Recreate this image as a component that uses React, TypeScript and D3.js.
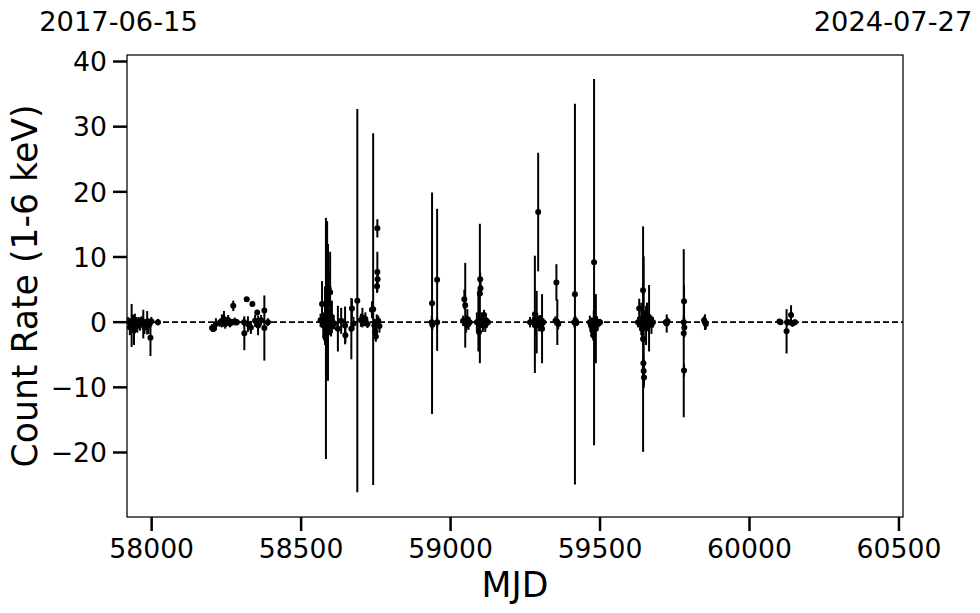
import React from "react";
import * as d3 from "d3";

// Observation epochs (MJD), count rates (1-6 keV) and 1-sigma errors
const mjd: number[] = [
  57921, 57927, 57933, 57937, 57941, 57944, 57948, 57952, 57956, 57961, 57966, 57972, 57976, 57980, 57985, 57989, 57996, 57999, 58021,
  58202, 58208, 58215, 58228, 58235, 58242, 58246, 58250, 58256, 58262, 58268, 58273, 58278, 58285, 58309, 58310, 58318, 58322, 58332, 58337, 58346, 58353, 58356, 58366, 58377, 58377, 58389,
  58565, 58570, 58574, 58578, 58580, 58582, 58583, 58585, 58587, 58588, 58590, 58592, 58594, 58597, 58600, 58603, 58606, 58610, 58623, 58634, 58647, 58648, 58668, 58670, 58675, 58688, 58700, 58705, 58710, 58715, 58722, 58737, 58741, 58745, 58748, 58750, 58753, 58755, 58755, 58756, 58754, 58758, 58762,
  58937, 58938, 58939, 58955, 58955,
  59042, 59046, 59049, 59052, 59056, 59060, 59064, 59088, 59093, 59095, 59098, 59099, 59100, 59103, 59108, 59112, 59116, 59120, 59125,
  59266, 59276, 59282, 59285, 59288, 59290, 59293, 59296, 59300, 59303, 59306, 59310, 59351, 59354, 59357, 59360,
  59414, 59416, 59418, 59421,
  59466, 59470, 59474, 59477, 59479, 59480, 59483, 59486, 59490, 59495, 59500,
  59627, 59631, 59634, 59638, 59641, 59644, 59644, 59645, 59646, 59646, 59647, 59650, 59654, 59657, 59660, 59664, 59668, 59672, 59677,
  59720, 59723, 59726, 59780, 59780, 59781, 59781, 59782, 59848, 59851, 59854,
  60100, 60104, 60124, 60126, 60132, 60139, 60144, 60152,
];
const rate: number[] = [
  0.2, -0.8, -0.5, 0.3, -1.2, -0.2, 0.0, -0.6, 0.1, -0.4, 0.3, -0.3, -0.8, 0.0, -0.1, -0.6, -2.4, 0.1, 0.0,
  -0.9, -1.0, -0.3, -0.1, 0.2, 0.5, -0.2, 0.0, 0.3, -0.2, 0.0, 2.5, 0.1, 0.0, 0.0, -1.7, 3.5, -0.3, -0.8, 2.8, 0.2, 1.5, -0.5, 0.3, -0.9, 1.8, 0.0,
  0.3, 2.8, -0.5, 0.0, 1.0, -0.8, -2.5, 0.5, 3.3, -1.5, 1.5, 5.2, 0.0, 4.6, -0.4, 0.8, 0.0, -0.3, -1.0, 0.2, -0.5, -2.0, -1.0, 2.1, -0.2, 3.3, 0.3, 0.7, 0.2, 0.5, -0.3, 1.9, 2.0, -0.5, -1.5, -2.2, 0.0, 14.4, 7.7, 6.6, 5.5, 0.2, -0.6,
  0.0, 2.9, -0.4, 6.5, 0.0,
  0.2, 3.5, 2.6, -0.3, 0.5, -0.2, 0.0, 0.0, 0.2, -1.5, 4.4, 6.6, 5.2, 0.3, -0.5, 1.1, -0.5, 0.2, 0.0,
  0.0, 0.0, 1.2, -0.5, 0.0, 0.4, 16.9, -0.2, 0.3, -0.4, -1.0, 0.0, 0.2, 6.1, 0.0, -0.3,
  0.0, 4.3, 0.2, -0.1,
  0.0, -0.5, -1.2, -2.0, 0.3, 9.2, -0.8, -1.0, 0.1, -0.2, 0.0,
  0.0, 2.1, -0.3, 0.5, -1.0, -2.6, 4.9, -6.3, -7.5, 0.0, -8.5, 0.3, -0.5, 1.0, -0.2, 0.6, 0.2, -0.4, 0.0,
  0.0, -0.2, 0.1, -1.7, 0.0, 3.2, -7.4, -0.8, 0.3, 0.0, -0.3,
  0.1, 0.0, -1.4, 0.0, 0.0, 1.1, -0.2, 0.0,
];
const rateErr: number[] = [
  0.6, 1.2, 3.3, 0.9, 2.3, 1.5, 0.8, 1.0, 0.7, 0.9, 0.6, 2.2, 1.0, 0.5, 1.8, 1.2, 2.8, 0.7, 0.5,
  0.6, 0.5, 0.9, 0.6, 1.0, 1.2, 0.8, 0.7, 0.8, 0.6, 0.5, 0.8, 0.6, 0.5, 0.6, 2.6, 0.3, 1.2, 1.0, 0.3, 0.9, 0.4, 1.5, 0.8, 5.0, 0.4, 0.6,
  1.0, 3.5, 2.0, 1.2, 4.5, 2.5, 18.5, 1.5, 12.2, 3.0, 10.5, 2.8, 2.0, 6.2, 1.8, 2.5, 1.0, 0.8, 3.5, 2.0, 2.9, 1.2, 4.7, 1.5, 1.0, 29.4, 1.0, 1.5, 0.8, 1.0, 0.6, 1.3, 27.0, 1.0, 1.0, 0.8, 1.2, 1.4, 3.1, 1.5, 1.0, 0.8, 1.0,
  1.0, 17.0, 0.8, 10.9, 0.8,
  0.8, 1.5, 6.5, 1.3, 1.5, 1.0, 0.7, 1.5, 4.7, 2.5, 10.7, 1.0, 1.0, 1.2, 1.0, 0.8, 1.0, 0.6, 0.5,
  0.8, 0.8, 9.0, 1.5, 4.8, 1.0, 9.1, 1.2, 0.8, 1.0, 5.3, 0.6, 0.7, 2.8, 3.5, 0.8,
  0.8, 29.2, 0.7, 0.5,
  1.0, 1.2, 1.0, 0.8, 1.5, 28.1, 2.0, 5.3, 0.8, 0.6, 0.5,
  0.8, 1.5, 1.0, 2.5, 2.0, 17.3, 1.0, 1.0, 1.0, 10.1, 1.2, 1.5, 3.0, 2.0, 1.2, 5.1, 1.0, 1.4, 0.8,
  0.5, 1.4, 0.6, 12.9, 1.0, 2.5, 1.0, 1.5, 0.6, 1.2, 0.8,
  0.3, 0.4, 3.4, 0.5, 0.3, 1.5, 0.5, 0.4,
];

const xTicks: number[] = [58000, 58500, 59000, 59500, 60000, 60500];
const yTicks: number[] = [-20, -10, 0, 10, 20, 30, 40];
const startDate = "2017-06-15";
const endDate = "2024-07-27";
const xDomain: [number, number] = [57917.5, 60513.5];
const yDomain: [number, number] = [-29.9, 41.0];

const W = 980;
const H = 613;
const M = { left: 127, right: 903, top: 55, bottom: 517 };
const FONT = "'DejaVu Sans', sans-serif";

const fmt = (v: number) => (v < 0 ? "\u2212" + Math.abs(v) : String(v));

export default function App() {
  const x = d3.scaleLinear().domain(xDomain).range([M.left, M.right]);
  const y = d3.scaleLinear().domain(yDomain).range([M.bottom, M.top]);
  const pts = mjd.map((m, i) => ({ m, r: rate[i], e: rateErr[i] }));

  return (
    <div style={{ position: "fixed", left: 0, top: 0 }}>
      <svg width={W} height={H} style={{ display: "block", background: "#fff" }} fontFamily={FONT}>
        <defs>
          <clipPath id="plotclip">
            <rect x={M.left} y={M.top} width={M.right - M.left} height={M.bottom - M.top} />
          </clipPath>
        </defs>
        <g clipPath="url(#plotclip)">
          <line x1={M.left} x2={M.right} y1={y(0)} y2={y(0)} stroke="#000" strokeWidth={1.6} strokeDasharray="6,3" />
          {pts.map((p, i) => (
            <line key={"e" + i} x1={x(p.m)} x2={x(p.m)} y1={y(p.r - p.e)} y2={y(p.r + p.e)} stroke="#000" strokeWidth={2} />
          ))}
          {pts.map((p, i) => (
            <circle key={"c" + i} cx={x(p.m)} cy={y(p.r)} r={3} fill="#000" />
          ))}
        </g>
        <rect x={M.left} y={M.top} width={M.right - M.left} height={M.bottom - M.top} fill="none" stroke="#000" strokeWidth={1.25} />
        {xTicks.map((t) => (
          <g key={"xt" + t}>
            <line x1={x(t)} x2={x(t)} y1={M.bottom} y2={M.bottom + 14} stroke="#000" strokeWidth={2.5} />
            <text x={x(t)} y={557.7} textAnchor="middle" fontSize={26.67} fill="#000">{t}</text>
          </g>
        ))}
        {yTicks.map((t) => (
          <g key={"yt" + t}>
            <line x1={M.left - 14} x2={M.left} y1={y(t)} y2={y(t)} stroke="#000" strokeWidth={2.5} />
            <text x={107} y={y(t) + 9.7} textAnchor="end" fontSize={26.67} fill="#000">{fmt(t)}</text>
          </g>
        ))}
        <text x={(M.left + M.right) / 2} y={597} textAnchor="middle" fontSize={34.67} fill="#000">MJD</text>
        <text transform={`translate(36.5, ${(M.top + M.bottom) / 2}) rotate(-90)`} textAnchor="middle" fontSize={34.67} fill="#000">Count Rate (1-6 keV)</text>
        <text x={118.5} y={31} textAnchor="middle" fontSize={27.3} fill="#000">{startDate}</text>
        <text x={893} y={31} textAnchor="middle" fontSize={27.3} fill="#000">{endDate}</text>
      </svg>
    </div>
  );
}
